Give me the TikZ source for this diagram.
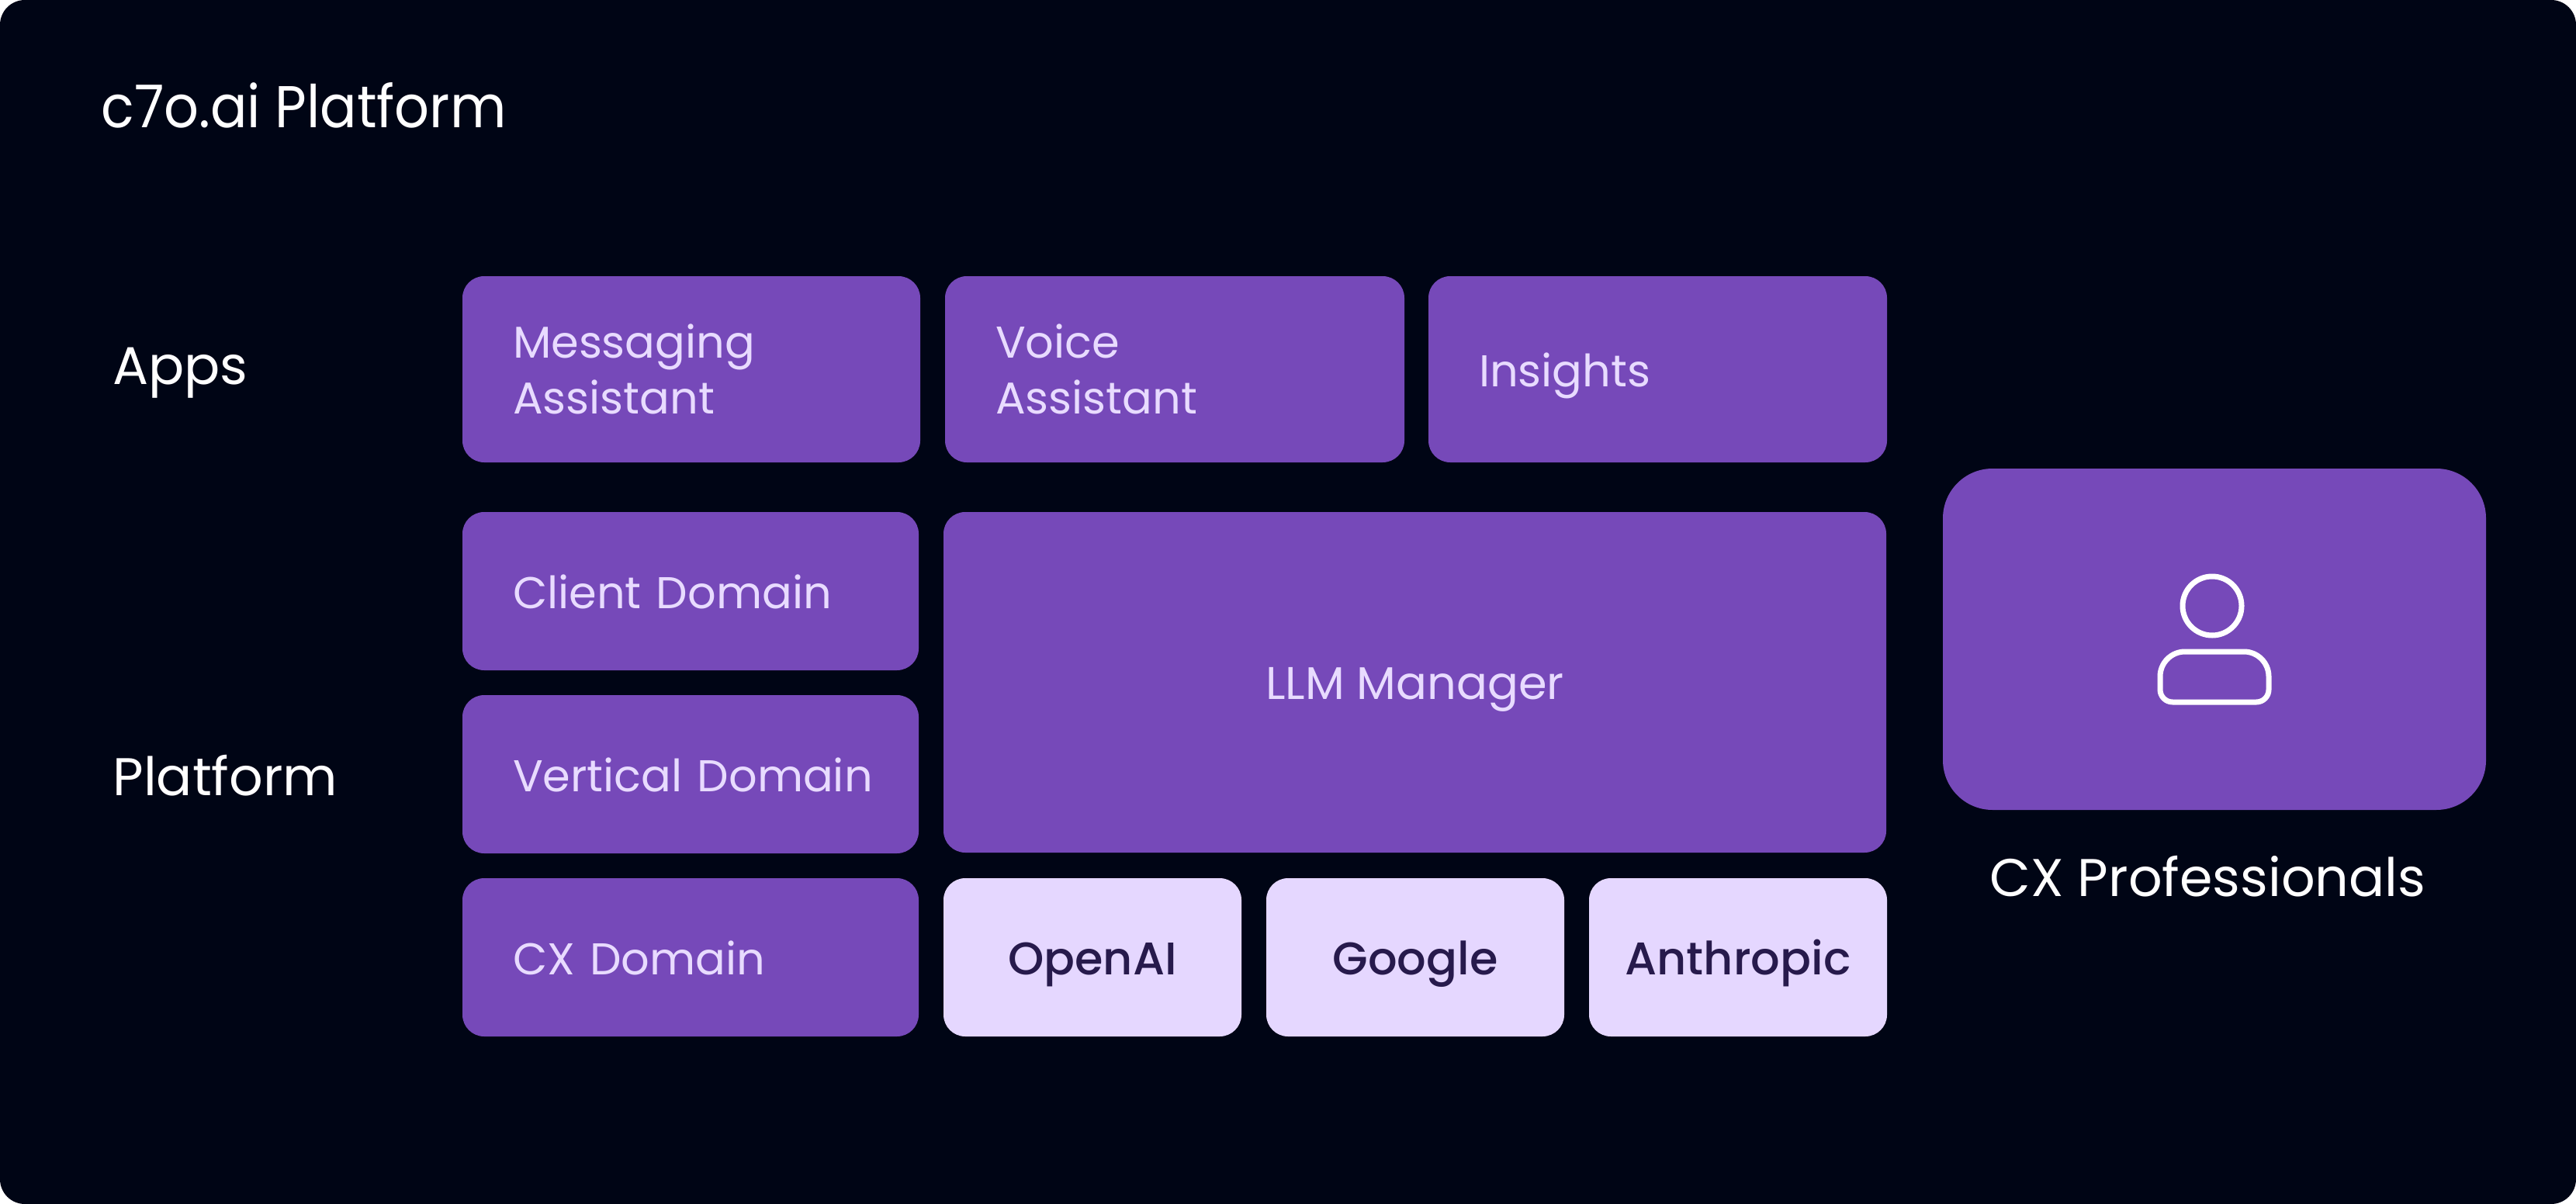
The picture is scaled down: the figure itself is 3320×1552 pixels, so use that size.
\documentclass[tikz,border=0pt]{standalone}
\usepackage{fontspec}
\setmainfont{Poppins}
\newfontfamily\medfont[UprightFont=* Medium]{Poppins}
\newfontfamily\titlefont[FakeStretch=0.925]{Poppins}
\definecolor{pagebg}{HTML}{000515}
\definecolor{boxpurple}{HTML}{7649B9}
\definecolor{boxlight}{HTML}{E5D7FF}
\definecolor{textlight}{HTML}{E8DBFF}
\definecolor{textdark}{HTML}{271A4C}
\newcommand{\fsbox}{\fontsize{28.7}{36}\selectfont}
\newcommand{\fswide}{\fontsize{29.5}{36}\selectfont}
\newcommand{\fshead}{\fontsize{34.2}{40}\selectfont}
\newcommand{\fstitle}{\titlefont\fontsize{38}{44}\selectfont}
\tikzset{
  x=0.5pt,y=-0.5pt,
  base box/.style={anchor=north west,rectangle,rounded corners=14pt,inner sep=0pt,outer sep=0pt,font=\fsbox},
  dark box/.style={base box,fill=boxpurple,text=textlight},
  light box/.style={base box,fill=boxlight,text=textdark,font=\fswide\medfont},
  left text/.style={align=left,text width=#1-65pt,inner xsep=32.5pt},
  one line/.style={text height=22pt,text depth=0pt},
  heading/.style={anchor=base west,inner sep=0pt,text=white,font=\fshead},
  person line/.style={draw=white,line width=3.5pt},
}
\begin{document}
\begin{tikzpicture}
\useasboundingbox (0,0) rectangle (3320,1552);
\fill[white] (0,0) rectangle (3320,1552);
\fill[pagebg,rounded corners=16pt] (0,0) rectangle (3320,1552);
\node[heading,font=\fstitle] (title) at (130,164) {c7o.ai Platform};
\node[heading] (apps) at (145,495) {Apps};
\node[heading] (platform) at (145,1025) {Platform};
\node[dark box,minimum width=295pt,minimum height=120pt,left text=295pt] (msg) at (596,356) {Messaging\\Assistant};
\node[dark box,minimum width=296pt,minimum height=120pt,left text=296pt] (voice) at (1218,356) {Voice\\Assistant};
\node[dark box,one line,minimum width=295.5pt,minimum height=120pt,left text=295.5pt] (insights) at (1841,356) {Insights};
\node[dark box,one line,minimum width=294pt,minimum height=102pt,left text=294pt] (client) at (596,660) {Client Domain};
\node[dark box,one line,minimum width=294pt,minimum height=102pt,left text=294pt] (vertical) at (596,896) {\makebox[0pt][l]{Vertical Domain}};
\node[dark box,one line,minimum width=294pt,minimum height=102pt,left text=294pt] (cxd) at (596,1132) {CX Domain};
\node[dark box,one line,font=\fswide,minimum width=607.5pt,minimum height=219.5pt] (llm) at (1216,660) {LLM Manager};
\node[light box,one line,minimum width=192pt,minimum height=102pt] (openai) at (1216,1132) {OpenAI};
\node[light box,one line,minimum width=192pt,minimum height=102pt] (google) at (1632,1132) {Google};
\node[light box,one line,minimum width=192pt,minimum height=102pt] (anthropic) at (2048,1132) {Anthropic};
\node[base box,fill=boxpurple,rounded corners=32pt,minimum width=350pt,minimum height=220pt] (cxbox) at (2504,604) {};
\node[heading] (cxp) at (2564,1155) {CX Professionals};
\node[circle,person line,minimum size=38pt,inner sep=0pt,outer sep=0pt] (head) at (2851,781) {};
\draw[person line] (2854,905) [rounded corners=8pt] -- (2924,905) [rounded corners=16pt] -- (2924,840) -- (2784,840) [rounded corners=8pt] -- (2784,905) -- cycle;
\end{tikzpicture}
\end{document}
